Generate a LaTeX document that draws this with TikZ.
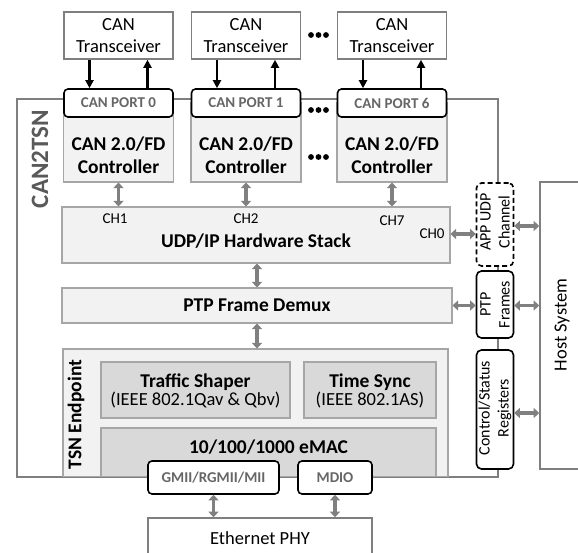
\documentclass[tikz,border=0pt]{standalone}
\usepackage{fontspec}
\setmainfont{Carlito}
\usetikzlibrary{arrows.meta}
\definecolor{lg}{HTML}{F2F2F2}
\definecolor{mg}{HTML}{D9D9D9}
\definecolor{bd}{HTML}{7F7F7F}
\definecolor{lbd}{HTML}{A6A6A6}
\definecolor{ar}{HTML}{808080}
\definecolor{pt}{HTML}{666666}
\definecolor{tg}{HTML}{595959}
\tikzset{
  fnt/.style={font=\fontsize{18.5}{22.5}\selectfont},
  bfnt/.style={font=\bfseries\fontsize{19.5}{22.5}\selectfont},
  trbox/.style={draw=bd, line width=1.6pt, fill=white, inner sep=0pt, align=center, fnt, minimum width=109pt, minimum height=47pt},
  portbox/.style={draw=black, line width=1.6pt, rounded corners=4pt, fill=white, inner sep=0pt, text=pt, font=\bfseries\fontsize{15}{18}\selectfont},
  ctrlbox/.style={draw=lbd, line width=1.1pt, fill=lg, inner sep=0pt, minimum width=110pt, minimum height=79pt},
  lbox/.style={draw=lbd, line width=1.1pt, fill=lg, inner sep=0pt},
  dbox/.style={draw=lbd, line width=1.1pt, fill=mg, inner sep=0pt, align=center},
  sidebox/.style={draw=black, line width=1.6pt, rounded corners=5pt, fill=white, inner sep=0pt, minimum width=37pt},
  sidetxt/.style={rotate=90, align=center, font=\fontsize{16}{19}\selectfont},
  chl/.style={font=\fontsize{15}{18}\selectfont},
  garrow/.style={draw=ar, line width=3.4pt, {Triangle[length=5.5pt,width=10pt]}-{Triangle[length=5.5pt,width=10pt]}},
  barrow/.style={draw=black, line width=2.2pt, -{Triangle[length=8pt,width=8pt]}},
  outer/.style={draw=bd, line width=1.8pt},
}
\begin{document}
\begin{tikzpicture}[x=1pt,y=-1pt]
\useasboundingbox (0,0) rectangle (578,553);
\clip (0,0) rectangle (578,553);

% outer CAN2TSN frame
\draw[outer] (17,99) rectangle (498,477);
\node[rotate=90, text=tg, font=\bfseries\fontsize{25}{28}\selectfont] (can2tsn) at (40,159) {CAN2TSN};

% transceivers
\node[trbox] (t0) at (118.5,35.5) {CAN\\Transceiver};
\node[trbox] (t1) at (246,35.5) {CAN\\Transceiver};
\node[trbox] (t2) at (392,35.5) {CAN\\Transceiver};

% controllers
\node[ctrlbox] (c0) at (118.5,142.5) {};
\node[ctrlbox] (c1) at (246,142.5) {};
\node[ctrlbox] (c2) at (392,142.5) {};
\node[bfnt, align=center] (c0t) at (118.5,155) {CAN 2.0/FD\\Controller};
\node[bfnt, align=center] (c1t) at (246,155) {CAN 2.0/FD\\Controller};
\node[bfnt, align=center] (c2t) at (392,155) {CAN 2.0/FD\\Controller};

% ports
\node[portbox, minimum width=109pt, minimum height=28pt] (p0) at (118.5,103) {CAN PORT 0};
\node[portbox, minimum width=109pt, minimum height=28pt] (p1) at (246,103) {CAN PORT 1};
\node[portbox, minimum width=109pt, minimum height=28pt] (p2) at (392,103) {CAN PORT 6};

% dots
\foreach \yy in {35,110,157} {
  \foreach \xx in {311,318.5,326} {\fill (\xx,\yy) circle (2.9pt);}
}

% transceiver arrows
\foreach \n in {0,1,2} {
  \draw[barrow] ([xshift=-29pt]t\n.south) -- ([xshift=-29pt]p\n.north);
  \draw[barrow] ([xshift=29pt]p\n.north) -- ([xshift=29pt]t\n.south);
}

% UDP/IP stack
\node[lbox, minimum width=388pt, minimum height=56pt] (udp) at (256,235) {};
\node[bfnt] (udpt) at (256,241) {UDP/IP Hardware Stack};
\node[chl] (ch1) at (115,219) {CH1};
\node[chl] (ch2) at (246,219) {CH2};
\node[chl] (ch7) at (392,221) {CH7};
\node[chl] (ch0) at (432,234) {CH0};

% PTP demux
\node[lbox, bfnt, minimum width=390pt, minimum height=35pt] (ptp) at (257,305.5) {PTP Frame Demux};

% TSN endpoint
\node[lbox, minimum width=385pt, minimum height=128pt] (tsn) at (255.5,413) {};
\node[rotate=90, bfnt] (tsnt) at (76,414.5) {TSN Endpoint};
\node[dbox, minimum width=189pt, minimum height=56pt] (ts) at (195.5,390) {};
\node[align=center] (tst) at (195.5,391) {{\bfseries\fontsize{19.5}{24}\selectfont Traffic Shaper}\\{\fontsize{18.5}{24}\selectfont (IEEE 802.1Qav \& Qbv)}};
\node[dbox, minimum width=132pt, minimum height=56pt] (sy) at (370,390) {};
\node[align=center] (syt) at (370,391) {{\bfseries\fontsize{19.5}{24}\selectfont Time Sync}\\{\fontsize{18.5}{24}\selectfont (IEEE 802.1AS)}};
\node[dbox, minimum width=335pt, minimum height=49pt] (mac) at (268.5,452.5) {};
\node[bfnt] (mact) at (268.5,447) {10/100/1000 eMAC};
\draw[outer] (tsn.south west) -- (tsn.south east);

% PHY interfaces
\node[portbox, minimum width=131pt, minimum height=33pt] (gmii) at (213.5,477.5) {GMII/RGMII/MII};
\node[portbox, minimum width=74pt, minimum height=33pt] (mdio) at (335,477.5) {MDIO};
\node[draw=bd, line width=1.6pt, fill=white, fnt, minimum width=224pt, minimum height=40pt] (phy) at (260,538) {Ethernet PHY};

% right column
\node[sidebox, dashed, dash pattern=on 5pt off 3pt, minimum height=83pt] (app) at (495,224.5) {};
\node[sidetxt] (appt) at (495,222) {APP UDP\\Channel};
\node[sidebox, minimum height=67pt] (ptpf) at (495,304.5) {};
\node[sidetxt] (ptpft) at (495,304.5) {PTP\\Frames};
\node[sidebox, minimum height=119pt] (csr) at (495,409.5) {};
\node[sidetxt] (csrt) at (495,408) {Control/Status\\Registers};

% host
\node[draw=bd, line width=1.6pt, fill=white, minimum width=80pt, minimum height=287pt] (host) at (580,325.5) {};
\node[rotate=90, fnt] (hostt) at (562,325) {Host System};

% gray arrows
\draw[garrow] (c0.south) -- (c0.south |- udp.north);
\draw[garrow] (c1.south) -- (c1.south |- udp.north);
\draw[garrow] (c2.south) -- (c2.south |- udp.north);
\draw[garrow] (udp.south -| ptp.north) -- (ptp.north);
\draw[garrow] (ptp.south) -- (ptp.south |- tsn.north);
\draw[garrow] (udp.east |- ch0.center) -- (app.west |- ch0.center);
\draw[garrow] ([yshift=-1.5pt]app.east) -- ([yshift=-1.5pt]app.east -| host.west);
\draw[garrow] (ptp.east) -- (ptp.east -| ptpf.west);
\draw[garrow] (ptpf.east |- ptp.east) -- (ptp.east -| host.west);
\draw[garrow] ([yshift=-3.5pt]csr.east) -- ([yshift=-3.5pt]csr.east -| host.west);
\draw[garrow] (gmii.south) -- (gmii.south |- phy.north);
\draw[garrow] (mdio.south) -- (mdio.south |- phy.north);
\end{tikzpicture}
\end{document}
